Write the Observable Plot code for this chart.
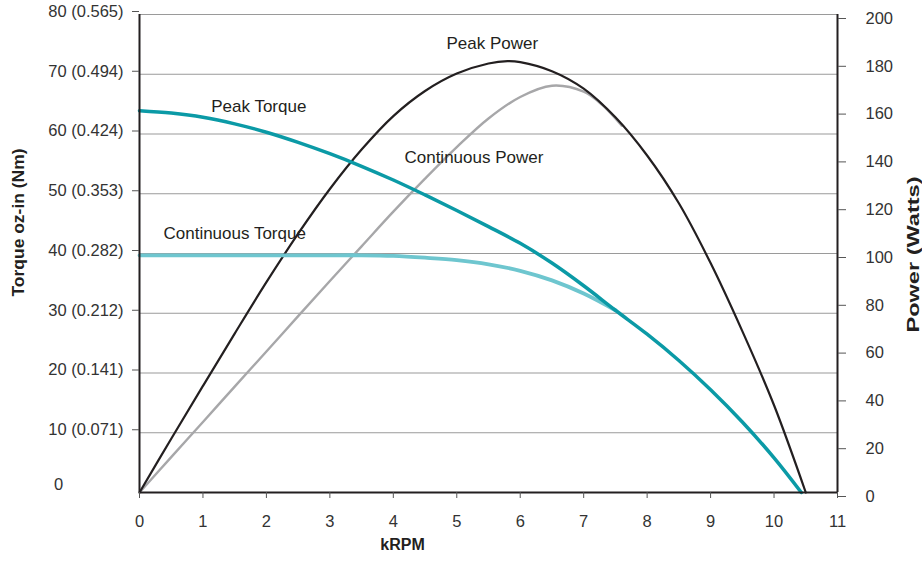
<!DOCTYPE html>
<html><head><meta charset="utf-8">
<script src="https://cdn.jsdelivr.net/npm/d3@7"></script>
<script src="https://cdn.jsdelivr.net/npm/@observablehq/plot@0.6"></script>
<style>body{margin:0;background:#fff;} svg{display:block;}</style>
</head><body><div id="chart"></div>
<script>
// x ticks (kRPM)
const kTicks = [0,1,2,3,4,5,6,7,8,9,10,11];
// left axis: torque oz-in and Nm equivalents
const torqueTicks = [10,20,30,40,50,60,70,80];
const nmLabels = ["0.071","0.141","0.212","0.282","0.353","0.424","0.494","0.565"];
// right axis: power (W)
const powerTicks = [0,20,40,60,80,100,120,140,160,180,200];
const torqueMax = 80, powerMax = 200;

// [kRPM, torque oz-in]
const peakTorque = [[0,63.9],[0.5,63.5],[1,62.8],[1.5,61.7],[2,60.3],[2.5,58.6],[3,56.7],[3.5,54.6],[4,52.3],[4.5,49.8],[5,47.2],[5.5,44.5],[6,41.7],[6.5,38.4],[7,34.6],[7.5,30.5],[8,26.5],[8.5,22.1],[9,17.2],[9.5,11.8],[10,5.8],[10.43,0]];
const contTorque = [[0,39.7],[1,39.7],[2,39.7],[3,39.7],[3.5,39.7],[4,39.6],[4.5,39.3],[5,38.9],[5.5,38.2],[6,37.1],[6.5,35.5],[7,33.3],[7.5,30.5]];
// [kRPM, power W]
const peakPower = [[0,0],[0.5,22.5],[1,44.6],[1.5,66.5],[2,88],[2.5,108.3],[3,127],[3.5,143.5],[4,157.5],[4.5,168],[5,175.3],[5.5,179.5],[5.8,180.5],[6,180.1],[6.5,176.3],[7,169],[7.5,157],[8,141],[8.5,121],[9,96],[9.5,67.5],[10,36.5],[10.5,0]];
const contPower = [[0,0],[0.5,14.8],[1,29.5],[1.5,44.3],[2,59],[2.5,73.8],[3,88.5],[3.5,103],[4,117.5],[4.5,131.3],[5,144.5],[5.5,156.5],[6,165.5],[6.5,170.2],[7,167.7],[7.3,162],[7.6,153.5]];

// curve labels [text, kRPM, torque-scale y]
const curveLabels = [["Peak Power",5.56,75.2],["Peak Torque",1.88,64.6],["Continuous Power",5.27,56.0],["Continuous Torque",1.50,43.4]];

const toT = p => p * torqueMax / powerMax;
const font = "Liberation Sans, Arial, Helvetica, sans-serif";
const ink = "#231f20";

const chart = Plot.plot({
  width: 922, height: 563,
  marginLeft: 139, marginRight: 85, marginTop: 14, marginBottom: 71,
  x: {domain: [0, 11]},
  y: {domain: [0, torqueMax]},
  style: {fontFamily: font, fontSize: "16.5px", color: "#333", background: "#fff"},
  marks: [
    Plot.gridY(torqueTicks, {stroke: "#9a9a9a", strokeOpacity: 1, strokeWidth: 1.2}),
    Plot.line(contPower, {x: d => d[0], y: d => toT(d[1]), stroke: "#a7a7a9", strokeWidth: 2.4, curve: "catmull-rom"}),
    Plot.line(peakPower, {x: d => d[0], y: d => toT(d[1]), stroke: ink, strokeWidth: 2.2, curve: "catmull-rom"}),
    Plot.line(contTorque, {x: d => d[0], y: d => d[1], stroke: "#6ec6cf", strokeWidth: 3.8, curve: "catmull-rom"}),
    Plot.line(peakTorque, {x: d => d[0], y: d => d[1], stroke: "#0b9aa6", strokeWidth: 3.5, curve: "catmull-rom"}),
    Plot.ruleX([0, 11], {stroke: ink, strokeWidth: 2}),
    Plot.ruleY([0], {stroke: ink, strokeWidth: 2}),
    Plot.axisX(kTicks, {tickSize: 6, tickPadding: 17, label: null, stroke: "#555", fill: "#333"}),
    Plot.axisY(torqueTicks, {anchor: "left", tickSize: 7, tickPadding: 9, dy: -3, label: null, stroke: "#555", fill: "#333",
      tickFormat: d => `${d} (${nmLabels[torqueTicks.indexOf(d)]})`}),
    Plot.text(["0"], {x: 0, y: 0, dx: -81, dy: -8, fill: "#333", fontSize: 16.5}),
    Plot.axisY(powerTicks.map(toT), {anchor: "right", tickSize: 8, tickPadding: 20, dy: 4, label: null, stroke: "#555", fill: "#333",
      tickFormat: d => String(Math.round(d * powerMax / torqueMax))}),
    Plot.text(curveLabels, {x: d => d[1], y: d => d[2], text: d => d[0], fill: ink, fontSize: 17}),
    Plot.text(["Torque oz-in (Nm)"], {frameAnchor: "left", textAnchor: "middle", dx: -121, dy: -31, rotate: -90, fontWeight: "bold", fontSize: 16, fill: ink}),
    Plot.text(["Power (Watts)"], {frameAnchor: "right", textAnchor: "middle", dx: 76, dy: 1, rotate: -90, fontWeight: "bold", fontSize: 16, fill: ink}),
    Plot.text(["kRPM"], {frameAnchor: "bottom", textAnchor: "middle", dx: -86, dy: 57, fontWeight: "bold", fontSize: 16, fill: ink})
  ]
});
// the reference's rotated titles are stretched along their length
const stretch = {"Torque oz-in (Nm)": 148, "Power (Watts)": 156};
d3.select(chart).selectAll("text").each(function() {
  const t = this.textContent;
  if (stretch[t]) d3.select(this).attr("textLength", stretch[t]).attr("lengthAdjust", "spacingAndGlyphs");
});
document.getElementById("chart").appendChild(chart);
</script>
</body></html>
